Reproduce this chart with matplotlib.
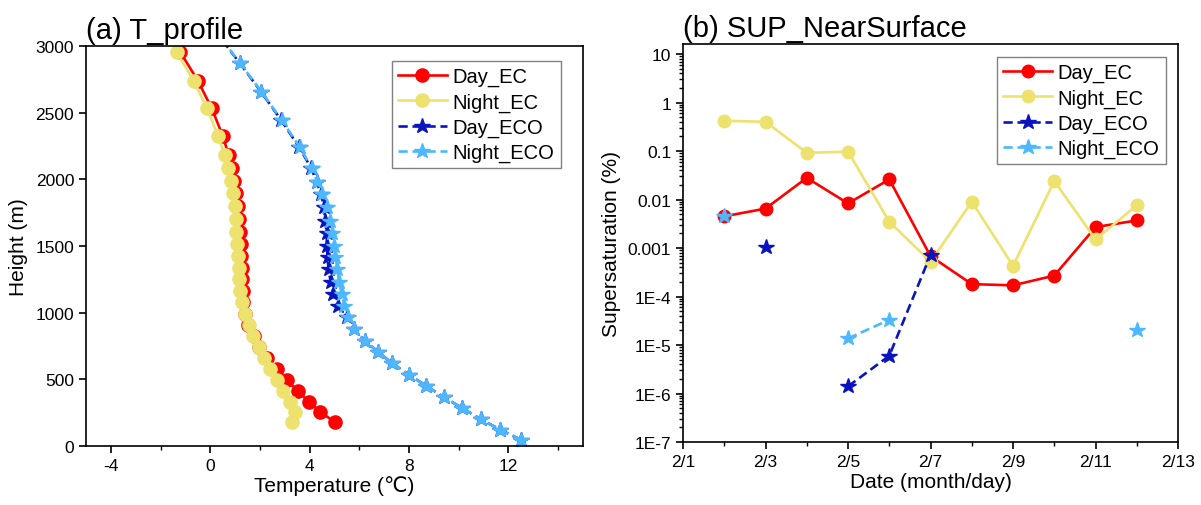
import matplotlib
matplotlib.use("Agg")
import matplotlib.pyplot as plt
import numpy as np
from matplotlib.ticker import FixedLocator, LogLocator, NullFormatter

plt.rcParams['font.family'] = ['Liberation Sans', 'DejaVu Sans']
plt.rcParams['axes.unicode_minus'] = False

# ---- (a) temperature profiles ----
height_ec = [178, 257, 333, 412, 495, 577, 660, 740, 822, 907, 990, 1078, 1160, 1250,
             1337, 1427, 1515, 1607, 1702, 1802, 1895, 1990, 2085, 2183, 2328, 2533, 2740, 2953]
t_day_ec = [5.02, 4.42, 3.96, 3.52, 3.10, 2.69, 2.28, 1.98, 1.75, 1.52, 1.38, 1.32, 1.31, 1.29,
            1.27, 1.25, 1.22, 1.18, 1.15, 1.12, 1.05, 0.97, 0.88, 0.74, 0.50, 0.06, -0.50, -1.20]
t_night_ec = [3.30, 3.43, 3.20, 2.94, 2.69, 2.42, 2.17, 1.95, 1.74, 1.56, 1.41, 1.29, 1.21, 1.16,
              1.14, 1.12, 1.09, 1.05, 1.02, 0.98, 0.92, 0.82, 0.71, 0.58, 0.31, -0.13, -0.67, -1.35]

height_eco = [47, 122, 202, 285, 365, 452, 535, 622, 707, 790, 877, 965, 1052, 1140, 1228,
              1327, 1415, 1502, 1600, 1690, 1795, 1890, 1983, 2085, 2240, 2445, 2658, 2873, 3095]
t_day_eco = [12.5, 11.67, 10.88, 10.14, 9.41, 8.69, 7.99, 7.31, 6.75, 6.21, 5.80, 5.52, 5.13, 4.96,
             4.85, 4.76, 4.72, 4.69, 4.69, 4.62, 4.58, 4.45, 4.28, 4.06, 3.58, 2.85, 2.04, 1.18, 0.28]
t_night_eco = [12.5, 11.67, 10.88, 10.14, 9.41, 8.69, 7.99, 7.31, 6.75, 6.21, 5.80, 5.54, 5.40, 5.29,
               5.18, 5.12, 5.04, 4.97, 4.92, 4.82, 4.70, 4.48, 4.30, 4.08, 3.61, 2.87, 2.06, 1.19, 0.30]

# ---- (b) near-surface supersaturation ----
dates = ['2/2', '2/3', '2/4', '2/5', '2/6', '2/7', '2/8', '2/9', '2/10', '2/11', '2/12']
sup_day_ec = [0.0045, 0.0065, 0.028, 0.0083, 0.026, 0.00068, 1.8e-4, 1.7e-4, 2.7e-4, 0.0027, 0.0037]
sup_night_ec = [0.42, 0.40, 0.092, 0.097, 0.0035, 0.00052, 0.009, 0.00043, 0.024, 0.0015, 0.0076]
sup_day_eco = [np.nan, 0.00105, np.nan, 1.4e-6, 6e-6, 0.00072, np.nan, np.nan, np.nan, np.nan, np.nan]
sup_night_eco = [0.0045, np.nan, np.nan, 1.37e-5, 3.3e-5, np.nan, np.nan, np.nan, np.nan, np.nan, 2.0e-5]

date_ticks = ['2/1', '2/3', '2/5', '2/7', '2/9', '2/11', '2/13']
log_ticks = [1e-7, 1e-6, 1e-5, 1e-4, 1e-3, 1e-2, 1e-1, 1, 10]
log_labels = ['1E-7', '1E-6', '1E-5', '1E-4', '0.001', '0.01', '0.1', '1', '10']

c_red = '#FF0000'
c_yel = '#EDE26E'
c_dblue = '#0A14BE'
c_lblue = '#4DB8FF'
dash = (0, (3.5, 1.8))

fig = plt.figure(figsize=(12.01, 5.06), dpi=100)
ax1 = fig.add_axes([0.0716, 0.1166, 0.4138, 0.7905])
ax2 = fig.add_axes([0.5687, 0.1245, 0.4122, 0.7866])

lw = 1.9
ax1.plot(t_day_ec, height_ec, '-o', color=c_red, lw=lw, ms=9.5, label='Day_EC')
ax1.plot(t_night_ec, height_ec, '-o', color=c_yel, lw=lw, ms=9.5, label='Night_EC')
ax1.plot(t_day_eco, height_eco, '*', ls=dash, color=c_dblue, lw=lw, ms=11.5, label='Day_ECO')
ax1.plot(t_night_eco, height_eco, '*', ls=dash, color=c_lblue, lw=lw, ms=11.5, label='Night_ECO')
ax1.set_xlim(-5, 15)
ax1.set_ylim(0, 3000)
ax1.set_xticks([-4, 0, 4, 8, 12])
ax1.xaxis.set_minor_locator(FixedLocator([-2, 2, 6, 10, 14]))
ax1.set_yticks(range(0, 3001, 500))
ax1.set_xlabel('Temperature (℃)', fontsize=15, labelpad=2)
ax1.set_ylabel('Height (m)', fontsize=15, labelpad=5)
ax1.set_title('(a) T_profile', loc='left', fontsize=21, pad=6)

x_days = [int(d.split('/')[1]) for d in dates]
ax2.plot(x_days, sup_day_ec, '-o', color=c_red, lw=lw, ms=9, label='Day_EC')
ax2.plot(x_days, sup_night_ec, '-o', color=c_yel, lw=lw, ms=9, label='Night_EC')
ax2.plot(x_days, sup_day_eco, '*', ls=dash, color=c_dblue, lw=lw, ms=11.5, label='Day_ECO')
ax2.plot(x_days, sup_night_eco, '*', ls=dash, color=c_lblue, lw=lw, ms=11.5, label='Night_ECO')
ax2.set_yscale('log')
ax2.set_ylim(1e-7, 16.1)
ax2.set_yticks(log_ticks)
ax2.set_yticklabels(log_labels)
ax2.yaxis.set_minor_locator(LogLocator(base=10, subs=np.arange(2, 10), numticks=20))
ax2.yaxis.set_minor_formatter(NullFormatter())
tick_days = [int(d.split('/')[1]) for d in date_ticks]
ax2.set_xlim(tick_days[0], tick_days[-1])
ax2.set_xticks(tick_days)
ax2.set_xticklabels(date_ticks)
ax2.xaxis.set_minor_locator(FixedLocator([2, 4, 6, 8, 10, 12]))
ax2.set_xlabel('Date (month/day)', fontsize=15, labelpad=2)
ax2.set_ylabel('Supersaturation (%)', fontsize=15, labelpad=5)
ax2.set_title('(b) SUP_NearSurface', loc='left', fontsize=21, pad=6)

for ax, anchor in [(ax1, (0.955, 0.962)), (ax2, (0.975, 0.967))]:
    for s in ax.spines.values():
        s.set_linewidth(1.2)
    ax.tick_params(which='major', direction='out', length=5, width=1.2, labelsize=12.5)
    ax.tick_params(which='minor', direction='out', length=3, width=1.0)
    leg = ax.legend(loc='upper right', bbox_to_anchor=anchor, fontsize=14.5, fancybox=False,
                    edgecolor='#808080', framealpha=1, handlelength=2.4, borderpad=0.3,
                    labelspacing=0.3, handletextpad=0.3, borderaxespad=0)
    leg.get_frame().set_linewidth(1.0)

fig.savefig('out.png', dpi=100)
